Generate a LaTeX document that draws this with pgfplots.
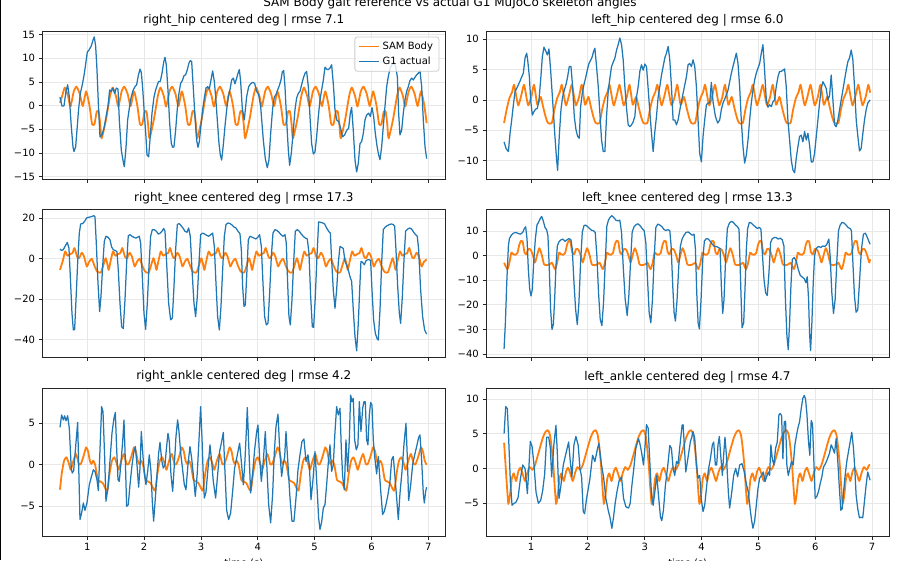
\documentclass[border=0pt]{standalone}
\usepackage{fontspec}
\setmainfont{DejaVu Sans}
\usepackage{pgfplots}
\pgfplotsset{compat=1.18}

\definecolor{tabblue}{HTML}{1F77B4}
\definecolor{taborange}{HTML}{FF7F0E}
\definecolor{gridgray}{HTML}{E8E8E8}
\definecolor{spine}{HTML}{262626}

\pgfplotsset{
  every axis title/.style={at={(0.5,1)}, anchor=base, yshift=8.5pt,
    font=\fontsize{12}{14}\selectfont, text=black},
  panel/.style={
    scale only axis, width=403pt, height=147.5pt,
    xmin=0.208, xmax=7.299,
    xtick={1,2,3,4,5,6,7},
    axis line style={draw=spine, line width=0.8pt},
    tick align=outside, tickpos=left,
    major tick length=3.5pt,
    tick style={draw=spine, line width=0.8pt},
    xmajorgrids, ymajorgrids,
    major grid style={draw=gridgray, line width=0.8pt},
    tick label style={font=\fontsize{10}{12}\selectfont, text=black, inner sep=0pt},
    yticklabel style={anchor=east, xshift=-3.5pt},
    xticklabel style={anchor=north, yshift=-3.5pt},
  },
  nox/.style={xticklabels={}},
  sam/.style={taborange, line width=1.8pt, line join=round, smooth, tension=0.35},
  gone/.style={tabblue, line width=1.25pt, line join=round},
}

\begin{document}
\begin{tikzpicture}[x=1pt,y=1pt]

% ---------------- right hip ----------------
\begin{axis}[panel, nox, at={(42.3pt,380.6pt)}, anchor=south west,
  ymin=-15.57, ymax=15.55,
  ytick={-15,-10,-5,0,5,10,15}, yticklabels={−15,−10,−5,0,5,10,15},
  title={right\_hip centered deg | rmse 7.1},
  legend style={at={(1,1)}, anchor=north east, xshift=-6pt, yshift=-4.7pt,
    draw=black!20, line width=0.8pt, rounded corners=2.5pt, fill=white,
    fill opacity=0.8, text opacity=1, font=\fontsize{10}{12}\selectfont,
    inner xsep=3.5pt, inner ysep=2.5pt, row sep=1.5pt,
    nodes={inner sep=2.4pt}},
  legend cell align=left,
  legend image code/.code={\draw[#1] (0pt,0pt) -- (20pt,0pt);},
]
\addplot[sam] coordinates {
(0.519,0.6)(0.557,2.0)(0.604,3.8)(0.662,2.0)(0.703,-0.2)(0.762,3.0)(0.809,4.0)(0.867,2.5)(0.920,-0.1)(0.979,3.0)(1.038,0.0)(1.084,-3.9)(1.126,-3.9)(1.165,-1.3)(1.200,-1.3)(1.228,-4.0)
(1.252,-6.9)(1.328,-3.0)(1.399,2.0)(1.446,3.8)(1.504,2.0)(1.545,-0.2)(1.604,3.0)(1.651,4.0)(1.709,2.5)(1.762,-0.1)(1.821,3.0)(1.880,0.0)(1.926,-3.9)(1.968,-3.9)(2.007,-1.3)(2.042,-1.3)(2.070,-4.0)
(2.094,-6.9)(2.170,-3.0)(2.241,2.0)(2.288,3.8)(2.346,2.0)(2.387,-0.2)(2.446,3.0)(2.493,4.0)(2.551,2.5)(2.604,-0.1)(2.663,3.0)(2.722,0.0)(2.768,-3.9)(2.810,-3.9)(2.849,-1.3)(2.884,-1.3)(2.912,-4.0)
(2.935,-6.9)(3.011,-3.0)(3.082,2.0)(3.129,3.8)(3.187,2.0)(3.228,-0.2)(3.287,3.0)(3.334,4.0)(3.392,2.5)(3.445,-0.1)(3.504,3.0)(3.563,0.0)(3.609,-3.9)(3.651,-3.9)(3.690,-1.3)(3.725,-1.3)(3.753,-4.0)
(3.777,-6.9)(3.853,-3.0)(3.924,2.0)(3.971,3.8)(4.029,2.0)(4.070,-0.2)(4.129,3.0)(4.176,4.0)(4.234,2.5)(4.287,-0.1)(4.346,3.0)(4.405,0.0)(4.451,-3.9)(4.493,-3.9)(4.532,-1.3)(4.567,-1.3)(4.595,-4.0)
(4.618,-6.9)(4.694,-3.0)(4.765,2.0)(4.812,3.8)(4.870,2.0)(4.911,-0.2)(4.970,3.0)(5.017,4.0)(5.075,2.5)(5.128,-0.1)(5.187,3.0)(5.246,0.0)(5.292,-3.9)(5.334,-3.9)(5.373,-1.3)(5.408,-1.3)(5.436,-4.0)
(5.460,-6.9)(5.536,-3.0)(5.607,2.0)(5.654,3.8)(5.712,2.0)(5.753,-0.2)(5.812,3.0)(5.859,4.0)(5.917,2.5)(5.970,-0.1)(6.029,3.0)(6.088,0.0)(6.134,-3.9)(6.176,-3.9)(6.215,-1.3)(6.250,-1.3)(6.278,-4.0)
(6.302,-6.9)(6.378,-3.0)(6.449,2.0)(6.496,3.8)(6.554,2.0)(6.595,-0.2)(6.654,3.0)(6.701,4.0)(6.759,2.5)(6.812,-0.1)(6.871,3.0)(6.930,0.0)(6.971,-3.7)
};
\addlegendentry{SAM Body}
\addplot[gone] coordinates {
(0.519,1.8)(0.554,-0.1)(0.589,-0.1)(0.625,3.0)(0.654,4.4)(0.683,1.9)(0.718,-4.4)(0.748,-8.7)(0.765,-9.7)(0.795,-8.7)(0.818,-5.2)(0.848,-0.6)(0.877,2.6)(0.912,4.4)(0.947,6.7)(0.977,9.3)(1.000,11.3)(1.035,11.8)(1.070,12.6)(1.100,13.8)(1.123,14.5)(1.147,12.5)(1.170,7.6)(1.194,0.5)(1.223,-6.6)(1.258,-6.2)(1.293,-4.8)(1.328,-2.5)(1.364,-0.1)(1.393,3.3)(1.422,3.0)(1.452,3.7)(1.481,2.6)(1.510,3.7)(1.540,3.5)(1.563,-3.0)(1.598,-9.4)(1.633,-11.9)(1.651,-12.9)(1.680,-9.0)(1.710,-3.0)(1.739,-0.6)(1.768,1.6)(1.804,3.2)(1.839,4.0)(1.868,4.4)(1.897,6.3)(1.927,7.7)(1.950,7.0)(1.974,3.7)(2.003,-1.6)(2.032,-6.6)(2.050,-10.4)(2.079,-10.8)(2.109,-6.2)(2.138,-1.6)(2.173,1.8)(2.202,3.3)(2.232,4.4)(2.255,5.1)(2.284,5.1)(2.314,6.8)(2.343,9.1)(2.367,10.2)(2.390,8.6)(2.419,3.3)(2.449,-3.7)(2.478,-8.0)(2.502,-8.8)(2.525,-8.7)(2.554,-5.2)(2.584,-0.6)(2.613,2.6)(2.642,4.7)(2.672,5.3)(2.701,6.3)(2.730,6.5)(2.760,7.6)(2.789,9.0)(2.812,9.5)(2.836,9.3)(2.865,3.7)(2.894,-2.3)(2.924,-7.3)(2.947,-8.8)(2.971,-7.6)(3.000,-4.1)(3.029,-0.9)(3.059,1.6)(3.088,3.7)(3.117,4.0)(3.147,3.5)(3.176,5.4)(3.205,7.3)(3.235,5.1)(3.258,1.9)(3.287,-3.0)(3.317,-8.0)(3.340,-10.4)(3.364,-11.5)(3.393,-8.3)(3.422,-4.4)(3.452,-0.9)(3.481,1.9)(3.510,3.3)(3.540,5.4)(3.569,5.8)(3.598,4.6)(3.628,5.8)(3.651,6.8)(3.675,7.6)(3.698,5.1)(3.727,-0.6)(3.762,-3.0)(3.804,1.9)(3.839,4.0)(3.874,4.6)(3.909,4.9)(3.944,4.7)(3.979,3.0)(4.015,2.3)(4.050,-0.2)(4.097,-7.3)(4.132,-11.2)(4.167,-13.1)(4.196,-11.5)(4.226,-5.9)(4.261,-0.6)(4.290,1.8)(4.320,2.3)(4.349,3.3)(4.378,4.2)(4.408,5.4)(4.431,7.1)(4.455,7.4)(4.478,4.0)(4.507,-3.0)(4.537,-9.4)(4.560,-12.6)(4.589,-10.1)(4.625,-5.2)(4.654,-0.9)(4.683,1.6)(4.713,2.6)(4.742,3.0)(4.771,4.4)(4.801,5.8)(4.830,6.8)(4.859,7.2)(4.889,4.0)(4.918,-2.3)(4.947,-8.0)(4.977,-10.2)(5.006,-9.8)(5.035,-6.6)(5.065,-2.3)(5.094,1.2)(5.123,3.3)(5.153,5.4)(5.182,8.1)(5.211,7.7)(5.240,7.6)(5.270,7.9)(5.299,8.6)(5.328,4.7)(5.358,-0.9)(5.387,-3.0)(5.422,-3.4)(5.457,-4.8)(5.493,-6.6)(5.528,-6.2)(5.563,-5.2)(5.598,-4.8)(5.628,-1.6)(5.651,-0.4)(5.680,-5.2)(5.710,-11.5)(5.739,-14.0)(5.768,-12.2)(5.798,-8.0)(5.827,-7.6)(5.856,-5.9)(5.886,-3.0)(5.915,-2.0)(5.950,-1.6)(5.980,-2.3)(6.009,-0.4)(6.038,-2.3)(6.068,-5.9)(6.097,-8.5)(6.126,-10.4)(6.150,-11.4)(6.179,-8.7)(6.208,-4.4)(6.238,-0.1)(6.267,4.0)(6.296,6.1)(6.326,7.9)(6.361,8.6)(6.396,9.1)(6.425,8.3)(6.455,6.1)(6.478,-1.6)(6.501,-6.2)(6.531,-5.2)(6.560,-1.6)(6.590,1.2)(6.619,3.0)(6.648,4.0)(6.678,5.3)(6.707,5.8)(6.736,5.4)(6.766,6.0)(6.795,6.5)(6.824,6.8)(6.853,7.4)(6.883,4.0)(6.912,-3.0)(6.942,-8.7)(6.971,-11.2)
};
\addlegendentry{G1 actual}
\end{axis}

% ---------------- left hip ----------------
\begin{axis}[panel, nox, at={(486pt,380.6pt)}, anchor=south west,
  ymin=-13.08, ymax=11.2,
  ytick={-10,-5,0,5,10}, yticklabels={−10,−5,0,5,10},
  title={left\_hip centered deg | rmse 6.0}]
\addplot[sam] coordinates {
(0.526,-3.8)(0.573,-1.5)(0.620,0.3)(0.667,1.3)(0.702,2.5)(0.748,0.2)(0.778,-0.9)(0.830,0.8)(0.877,2.5)(0.924,0.2)(0.953,-0.9)(1.006,0.5)(1.053,2.5)(1.111,-0.8)(1.170,0.5)(1.217,-1.3)(1.264,-3.0)(1.299,-3.8)
(1.366,-3.8)(1.413,-1.5)(1.460,0.3)(1.507,1.3)(1.542,2.5)(1.588,0.2)(1.618,-0.9)(1.670,0.8)(1.717,2.5)(1.764,0.2)(1.793,-0.9)(1.846,0.5)(1.893,2.5)(1.951,-0.8)(2.010,0.5)(2.057,-1.3)(2.104,-3.0)(2.139,-3.8)
(2.206,-3.8)(2.253,-1.5)(2.300,0.3)(2.347,1.3)(2.382,2.5)(2.428,0.2)(2.458,-0.9)(2.510,0.8)(2.557,2.5)(2.604,0.2)(2.633,-0.9)(2.686,0.5)(2.733,2.5)(2.791,-0.8)(2.850,0.5)(2.897,-1.3)(2.944,-3.0)(2.979,-3.8)
(3.047,-3.8)(3.094,-1.5)(3.141,0.3)(3.188,1.3)(3.223,2.5)(3.269,0.2)(3.299,-0.9)(3.351,0.8)(3.398,2.5)(3.445,0.2)(3.474,-0.9)(3.527,0.5)(3.574,2.5)(3.632,-0.8)(3.691,0.5)(3.738,-1.3)(3.785,-3.0)(3.820,-3.8)
(3.887,-3.8)(3.934,-1.5)(3.981,0.3)(4.028,1.3)(4.063,2.5)(4.109,0.2)(4.139,-0.9)(4.191,0.8)(4.238,2.5)(4.285,0.2)(4.314,-0.9)(4.367,0.5)(4.414,2.5)(4.472,-0.8)(4.531,0.5)(4.578,-1.3)(4.625,-3.0)(4.660,-3.8)
(4.727,-3.8)(4.774,-1.5)(4.821,0.3)(4.868,1.3)(4.903,2.5)(4.949,0.2)(4.979,-0.9)(5.031,0.8)(5.078,2.5)(5.125,0.2)(5.154,-0.9)(5.207,0.5)(5.254,2.5)(5.312,-0.8)(5.371,0.5)(5.418,-1.3)(5.465,-3.0)(5.500,-3.8)
(5.567,-3.8)(5.614,-1.5)(5.661,0.3)(5.708,1.3)(5.743,2.5)(5.789,0.2)(5.819,-0.9)(5.871,0.8)(5.918,2.5)(5.965,0.2)(5.994,-0.9)(6.047,0.5)(6.094,2.5)(6.152,-0.8)(6.211,0.5)(6.258,-1.3)(6.305,-3.0)(6.340,-3.8)
(6.408,-3.8)(6.455,-1.5)(6.502,0.3)(6.549,1.3)(6.584,2.5)(6.630,0.2)(6.660,-0.9)(6.712,0.8)(6.759,2.5)(6.806,0.2)(6.835,-0.9)(6.888,0.5)(6.935,2.5)(6.966,1.2)
};
\addplot[gone] coordinates {
(0.526,-6.9)(0.561,-8.0)(0.602,-8.5)(0.631,-5.5)(0.660,-3.3)(0.690,-0.8)(0.719,1.4)(0.748,1.9)(0.777,2.5)(0.807,3.1)(0.836,3.8)(0.865,4.4)(0.895,6.9)(0.924,7.7)(0.941,6.6)(0.971,3.8)(0.994,0.0)(1.023,-2.5)(1.053,-1.9)(1.082,-1.5)(1.111,-1.4)(1.140,0.0)(1.170,3.3)(1.199,7.1)(1.228,8.7)(1.257,8.1)(1.287,7.4)(1.316,8.4)(1.345,4.9)(1.380,0.0)(1.421,-6.0)(1.451,-9.9)(1.468,-11.6)(1.497,-6.0)(1.527,-1.6)(1.556,0.5)(1.585,1.6)(1.615,2.5)(1.644,3.8)(1.673,5.5)(1.703,5.5)(1.732,2.2)(1.761,-2.7)(1.791,-4.9)(1.820,-6.0)(1.849,-6.3)(1.872,-1.2)(1.902,1.1)(1.931,2.5)(1.960,3.6)(1.990,4.9)(2.019,6.0)(2.048,6.5)(2.077,7.1)(2.101,8.0)(2.124,8.5)(2.153,5.5)(2.183,2.2)(2.212,-2.2)(2.241,-6.6)(2.271,-8.5)(2.300,-8.5)(2.329,-2.7)(2.358,1.4)(2.388,3.6)(2.417,5.5)(2.446,6.2)(2.476,6.9)(2.505,8.2)(2.534,9.1)(2.563,10.2)(2.593,9.1)(2.622,6.6)(2.651,2.2)(2.681,-1.4)(2.710,-4.1)(2.739,-4.4)(2.769,-4.1)(2.798,-3.6)(2.827,-2.7)(2.856,0.5)(2.886,2.2)(2.915,4.7)(2.944,5.8)(2.974,4.9)(3.003,5.9)(3.032,5.5)(3.061,1.9)(3.090,-1.9)(3.120,-5.5)(3.149,-8.5)(3.179,-5.2)(3.208,-2.7)(3.237,0.5)(3.266,2.2)(3.296,4.1)(3.325,5.5)(3.354,6.9)(3.383,7.7)(3.413,8.8)(3.442,6.6)(3.471,2.2)(3.500,-3.3)(3.530,-3.3)(3.559,-4.1)(3.588,-3.3)(3.629,-1.1)(3.676,1.1)(3.734,3.8)(3.764,5.8)(3.793,6.0)(3.822,5.5)(3.851,6.6)(3.881,5.5)(3.910,2.2)(3.939,-3.3)(3.968,-8.8)(3.998,-10.2)(4.027,-6.0)(4.056,-3.3)(4.086,-0.8)(4.115,-0.5)(4.144,-0.5)(4.173,2.9)(4.203,-0.3)(4.244,-2.7)(4.285,-3.8)(4.320,-3.3)(4.349,-1.6)(4.378,-0.5)(4.437,0.8)(4.466,1.6)(4.495,3.0)(4.525,4.4)(4.554,5.5)(4.583,6.6)(4.613,7.7)(4.642,6.0)(4.671,2.2)(4.700,-3.3)(4.730,-7.7)(4.759,-10.4)(4.788,-9.1)(4.818,-6.6)(4.847,-3.3)(4.876,-0.5)(4.905,1.6)(4.935,3.3)(4.964,4.4)(4.993,5.2)(5.023,6.0)(5.052,7.7)(5.081,9.1)(5.110,4.9)(5.140,0.0)(5.169,-1.2)(5.198,-0.8)(5.228,-1.1)(5.257,-0.3)(5.286,0.0)(5.315,2.2)(5.345,3.8)(5.374,4.7)(5.403,4.7)(5.433,4.9)(5.462,5.1)(5.491,2.2)(5.520,-3.3)(5.550,-6.6)(5.579,-9.9)(5.608,-11.5)(5.638,-12.0)(5.667,-9.6)(5.696,-7.7)(5.726,-6.0)(5.755,-5.8)(5.784,-6.9)(5.814,-5.2)(5.843,-6.6)(5.872,-5.5)(5.901,-7.4)(5.931,-10.2)(5.960,-10.2)(5.989,-8.8)(6.019,-6.0)(6.048,-3.3)(6.077,-0.5)(6.106,1.9)(6.136,3.0)(6.165,2.5)(6.194,1.9)(6.224,0.0)(6.253,0.7)(6.282,4.1)(6.312,0.0)(6.341,-4.1)(6.370,-4.4)(6.399,-3.3)(6.429,-1.6)(6.458,0.0)(6.487,1.6)(6.517,3.3)(6.546,4.9)(6.575,6.3)(6.604,6.9)(6.634,8.2)(6.663,6.6)(6.692,2.2)(6.722,-3.3)(6.751,-6.0)(6.780,-8.4)(6.809,-8.0)(6.839,-5.5)(6.868,-3.3)(6.897,-1.6)(6.926,-0.5)(6.966,0.0)
};
\end{axis}

% ---------------- right knee ----------------
\begin{axis}[panel, nox, at={(42.3pt,202.7pt)}, anchor=south west,
  ymin=-48.7, ymax=24.2,
  ytick={-40,-20,0,20}, yticklabels={−40,−20,0,20},
  title={right\_knee centered deg | rmse 17.3}]
\addplot[sam] coordinates {
(0.519,-5.5)(0.569,-1.0)(0.610,3.6)(0.651,1.5)(0.698,2.3)(0.739,2.8)(0.774,5.3)(0.821,1.0)(0.856,0.3)(0.903,3.0)(0.944,1.0)(0.991,-3.8)(1.032,-1.5)(1.079,0.0)(1.126,-3.5)(1.167,-6.0)
(1.194,-6.7)(1.241,-6.7)(1.294,-2.0)(1.323,0.3)(1.352,-2.5)(1.376,-5.5)(1.411,-1.0)(1.452,3.6)(1.493,1.5)(1.540,2.3)(1.581,2.8)(1.616,5.3)(1.663,1.0)(1.698,0.3)(1.745,3.0)(1.786,1.0)(1.833,-3.8)(1.874,-1.5)(1.921,0.0)(1.968,-3.5)(2.009,-6.0)
(2.035,-6.7)(2.082,-6.7)(2.135,-2.0)(2.164,0.3)(2.193,-2.5)(2.217,-5.5)(2.252,-1.0)(2.293,3.6)(2.334,1.5)(2.381,2.3)(2.422,2.8)(2.457,5.3)(2.504,1.0)(2.539,0.3)(2.586,3.0)(2.627,1.0)(2.674,-3.8)(2.715,-1.5)(2.762,0.0)(2.809,-3.5)(2.850,-6.0)
(2.877,-6.7)(2.924,-6.7)(2.977,-2.0)(3.006,0.3)(3.035,-2.5)(3.059,-5.5)(3.094,-1.0)(3.135,3.6)(3.176,1.5)(3.223,2.3)(3.264,2.8)(3.299,5.3)(3.346,1.0)(3.381,0.3)(3.428,3.0)(3.469,1.0)(3.516,-3.8)(3.557,-1.5)(3.604,0.0)(3.651,-3.5)(3.692,-6.0)
(3.718,-6.7)(3.765,-6.7)(3.818,-2.0)(3.847,0.3)(3.876,-2.5)(3.900,-5.5)(3.935,-1.0)(3.976,3.6)(4.017,1.5)(4.064,2.3)(4.105,2.8)(4.140,5.3)(4.187,1.0)(4.222,0.3)(4.269,3.0)(4.310,1.0)(4.357,-3.8)(4.398,-1.5)(4.445,0.0)(4.492,-3.5)(4.533,-6.0)
(4.560,-6.7)(4.607,-6.7)(4.660,-2.0)(4.689,0.3)(4.718,-2.5)(4.742,-5.5)(4.777,-1.0)(4.818,3.6)(4.859,1.5)(4.906,2.3)(4.947,2.8)(4.982,5.3)(5.029,1.0)(5.064,0.3)(5.111,3.0)(5.152,1.0)(5.199,-3.8)(5.240,-1.5)(5.287,0.0)(5.334,-3.5)(5.375,-6.0)
(5.402,-6.7)(5.449,-6.7)(5.502,-2.0)(5.531,0.3)(5.560,-2.5)(5.584,-5.5)(5.619,-1.0)(5.660,3.6)(5.701,1.5)(5.748,2.3)(5.789,2.8)(5.824,5.3)(5.871,1.0)(5.906,0.3)(5.953,3.0)(5.994,1.0)(6.041,-3.8)(6.082,-1.5)(6.129,0.0)(6.176,-3.5)(6.217,-6.0)
(6.243,-6.7)(6.290,-6.7)(6.343,-2.0)(6.372,0.3)(6.401,-2.5)(6.425,-5.5)(6.460,-1.0)(6.501,3.6)(6.542,1.5)(6.589,2.3)(6.630,2.8)(6.665,5.3)(6.712,1.0)(6.747,0.3)(6.794,3.0)(6.835,1.0)(6.882,-3.8)(6.923,-1.5)(6.971,-0.3)
};
\addplot[gone] coordinates {
(0.519,4.8)(0.548,4.1)(0.578,4.5)(0.613,6.4)(0.648,8.1)(0.677,5.3)(0.701,-8.8)(0.730,-26.9)(0.754,-35.2)(0.777,-34.9)(0.801,-20.3)(0.830,-2.1)(0.859,12.7)(0.883,17.2)(0.918,17.4)(0.953,18.5)(0.988,20.2)(1.023,20.5)(1.059,20.7)(1.088,21.0)(1.117,21.3)(1.135,20.7)(1.158,7.8)(1.188,-12.1)(1.217,-26.1)(1.240,-18.7)(1.270,-3.8)(1.299,8.6)(1.328,11.1)(1.364,10.6)(1.399,9.4)(1.428,5.8)(1.457,4.5)(1.493,4.0)(1.522,3.6)(1.545,-5.5)(1.575,-22.0)(1.604,-33.6)(1.633,-34.5)(1.663,-20.3)(1.692,-2.1)(1.721,11.4)(1.751,11.9)(1.786,11.1)(1.821,10.6)(1.856,10.2)(1.886,10.7)(1.915,11.1)(1.938,7.8)(1.968,-8.8)(1.997,-26.9)(2.026,-34.9)(2.056,-22.0)(2.085,-3.8)(2.114,11.1)(2.144,14.4)(2.179,14.4)(2.214,13.6)(2.249,12.2)(2.284,12.7)(2.314,13.6)(2.343,15.0)(2.367,13.6)(2.396,-2.1)(2.431,-22.0)(2.466,-30.2)(2.496,-29.4)(2.525,-13.7)(2.554,4.5)(2.584,16.9)(2.613,17.4)(2.648,16.4)(2.683,15.2)(2.718,13.6)(2.754,13.1)(2.783,15.2)(2.812,11.1)(2.842,-5.5)(2.877,-22.0)(2.906,-28.6)(2.935,-18.7)(2.965,-2.1)(2.994,11.9)(3.029,12.7)(3.065,12.2)(3.100,11.6)(3.135,11.1)(3.170,11.9)(3.205,12.7)(3.235,6.1)(3.264,-12.1)(3.293,-28.6)(3.323,-35.2)(3.352,-23.6)(3.381,-5.5)(3.411,11.1)(3.440,16.9)(3.475,17.7)(3.510,17.4)(3.545,16.7)(3.581,15.7)(3.616,15.2)(3.651,13.6)(3.686,12.4)(3.710,4.5)(3.733,-13.7)(3.757,-23.6)(3.780,-22.8)(3.804,-8.8)(3.833,9.4)(3.862,11.1)(3.897,10.7)(3.933,10.2)(3.968,9.8)(4.003,10.7)(4.032,11.9)(4.062,6.1)(4.091,-12.1)(4.120,-28.6)(4.150,-32.7)(4.179,-31.9)(4.208,-17.0)(4.238,1.2)(4.267,12.7)(4.302,14.4)(4.337,14.0)(4.372,13.1)(4.408,11.9)(4.443,11.1)(4.478,11.9)(4.501,7.8)(4.525,-12.1)(4.548,-28.6)(4.572,-32.7)(4.601,-20.3)(4.630,-2.1)(4.660,13.6)(4.695,14.4)(4.730,13.6)(4.765,12.2)(4.801,11.1)(4.836,10.2)(4.871,9.8)(4.900,2.8)(4.930,-18.7)(4.959,-33.6)(4.982,-33.9)(5.012,-18.7)(5.041,1.2)(5.070,18.2)(5.106,18.0)(5.141,17.7)(5.176,17.2)(5.211,15.2)(5.246,13.6)(5.276,12.7)(5.299,-0.5)(5.328,-15.4)(5.358,-24.5)(5.387,-15.4)(5.416,-2.1)(5.446,6.1)(5.475,5.6)(5.504,5.1)(5.534,-1.3)(5.563,-3.0)(5.592,-5.5)(5.622,-8.8)(5.651,-11.2)(5.680,-25.3)(5.710,-38.5)(5.739,-45.5)(5.768,-31.9)(5.792,-15.4)(5.815,-1.3)(5.845,-1.8)(5.874,-3.0)(5.903,-1.0)(5.933,-0.5)(5.962,-0.5)(5.985,-0.8)(6.009,-15.4)(6.038,-30.2)(6.068,-36.9)(6.097,-39.3)(6.120,-40.2)(6.150,-25.3)(6.179,-2.1)(6.208,14.4)(6.244,15.7)(6.279,16.4)(6.314,16.9)(6.349,17.2)(6.384,16.9)(6.408,16.0)(6.431,4.5)(6.461,-13.7)(6.490,-26.9)(6.513,-31.9)(6.543,-18.7)(6.572,-0.5)(6.601,13.6)(6.636,14.7)(6.672,15.2)(6.707,14.7)(6.742,13.1)(6.777,11.9)(6.806,11.1)(6.830,4.5)(6.865,-15.4)(6.900,-28.6)(6.935,-35.2)(6.971,-37.2)
};
\end{axis}

% ---------------- left knee ----------------
\begin{axis}[panel, nox, at={(486pt,202.7pt)}, anchor=south west,
  ymin=-41.3, ymax=18.6,
  ytick={-40,-30,-20,-10,0,10}, yticklabels={−40,−30,−20,−10,0,10},
  title={left\_knee centered deg | rmse 13.3}]
\addplot[sam] coordinates {
(0.526,-2.9)
(0.584,-5.5)(0.619,-3.0)(0.654,1.2)(0.689,0.5)(0.725,0.3)(0.760,1.0)(0.795,4.5)(0.824,6.0)(0.853,5.8)(0.883,1.5)(0.918,0.5)(0.953,2.7)(0.994,2.4)(1.035,0.0)(1.070,-2.8)(1.105,0.0)(1.146,3.0)(1.187,0.5)(1.228,-3.5)(1.275,-3.9)(1.322,-3.6)(1.369,-2.9)(1.399,-4.5)
(1.424,-5.5)(1.459,-3.0)(1.494,1.2)(1.529,0.5)(1.565,0.3)(1.600,1.0)(1.635,4.5)(1.664,6.0)(1.693,5.8)(1.723,1.5)(1.758,0.5)(1.793,2.7)(1.834,2.4)(1.875,0.0)(1.910,-2.8)(1.945,0.0)(1.986,3.0)(2.027,0.5)(2.068,-3.5)(2.115,-3.9)(2.162,-3.6)(2.209,-2.9)(2.239,-4.5)
(2.265,-5.5)(2.300,-3.0)(2.335,1.2)(2.370,0.5)(2.406,0.3)(2.441,1.0)(2.476,4.5)(2.505,6.0)(2.534,5.8)(2.564,1.5)(2.599,0.5)(2.634,2.7)(2.675,2.4)(2.716,0.0)(2.751,-2.8)(2.786,0.0)(2.827,3.0)(2.868,0.5)(2.909,-3.5)(2.956,-3.9)(3.003,-3.6)(3.050,-2.9)(3.080,-4.5)
(3.105,-5.5)(3.140,-3.0)(3.175,1.2)(3.210,0.5)(3.246,0.3)(3.281,1.0)(3.316,4.5)(3.345,6.0)(3.374,5.8)(3.404,1.5)(3.439,0.5)(3.474,2.7)(3.515,2.4)(3.556,0.0)(3.591,-2.8)(3.626,0.0)(3.667,3.0)(3.708,0.5)(3.749,-3.5)(3.796,-3.9)(3.843,-3.6)(3.890,-2.9)(3.920,-4.5)
(3.945,-5.5)(3.980,-3.0)(4.015,1.2)(4.050,0.5)(4.086,0.3)(4.121,1.0)(4.156,4.5)(4.185,6.0)(4.214,5.8)(4.244,1.5)(4.279,0.5)(4.314,2.7)(4.355,2.4)(4.396,0.0)(4.431,-2.8)(4.466,0.0)(4.507,3.0)(4.548,0.5)(4.589,-3.5)(4.636,-3.9)(4.683,-3.6)(4.730,-2.9)(4.760,-4.5)
(4.785,-5.5)(4.820,-3.0)(4.855,1.2)(4.890,0.5)(4.926,0.3)(4.961,1.0)(4.996,4.5)(5.025,6.0)(5.054,5.8)(5.084,1.5)(5.119,0.5)(5.154,2.7)(5.195,2.4)(5.236,0.0)(5.271,-2.8)(5.306,0.0)(5.347,3.0)(5.388,0.5)(5.429,-3.5)(5.476,-3.9)(5.523,-3.6)(5.570,-2.9)(5.600,-4.5)
(5.625,-5.5)(5.660,-3.0)(5.695,1.2)(5.730,0.5)(5.766,0.3)(5.801,1.0)(5.836,4.5)(5.865,6.0)(5.894,5.8)(5.924,1.5)(5.959,0.5)(5.994,2.7)(6.035,2.4)(6.076,0.0)(6.111,-2.8)(6.146,0.0)(6.187,3.0)(6.228,0.5)(6.269,-3.5)(6.316,-3.9)(6.363,-3.6)(6.410,-2.9)(6.440,-4.5)
(6.465,-5.5)(6.500,-3.0)(6.535,1.2)(6.570,0.5)(6.606,0.3)(6.641,1.0)(6.676,4.5)(6.705,6.0)(6.734,5.8)(6.764,1.5)(6.799,0.5)(6.834,2.7)(6.875,2.4)(6.916,0.0)(6.951,-2.8)(6.966,-1.5)
};
\addplot[gone] coordinates {
(0.526,-37.9)(0.549,-27.3)(0.573,-11.0)(0.602,3.9)(0.620,6.9)(0.655,8.3)(0.690,9.1)(0.731,9.4)(0.772,9.0)(0.813,8.7)(0.854,9.4)(0.883,11.0)(0.906,11.7)(0.930,6.7)(0.953,-5.6)(0.977,-13.7)(1.000,-16.4)(1.023,-13.7)(1.047,-2.9)(1.076,6.7)(1.105,12.4)(1.135,13.7)(1.164,15.1)(1.187,15.9)(1.216,14.1)(1.246,11.4)(1.275,10.5)(1.298,8.0)(1.322,-5.6)(1.345,-21.9)(1.369,-30.0)(1.393,-28.0)(1.416,-17.8)(1.439,-4.2)(1.463,3.9)(1.492,5.6)(1.527,6.4)(1.562,6.7)(1.598,5.8)(1.633,6.4)(1.668,6.9)(1.703,6.4)(1.726,2.6)(1.756,-11.0)(1.785,-21.9)(1.814,-28.0)(1.843,-19.2)(1.872,-2.9)(1.902,9.4)(1.931,12.1)(1.960,12.4)(1.995,11.8)(2.030,11.0)(2.065,10.3)(2.100,10.1)(2.130,9.4)(2.159,-0.1)(2.188,-15.1)(2.218,-26.0)(2.247,-28.4)(2.276,-19.2)(2.306,-2.9)(2.335,12.1)(2.364,14.5)(2.394,15.6)(2.423,16.2)(2.458,15.4)(2.493,14.4)(2.528,14.1)(2.563,14.4)(2.593,9.4)(2.622,-4.2)(2.657,-17.8)(2.692,-24.3)(2.721,-16.4)(2.751,-2.9)(2.780,9.6)(2.815,11.8)(2.850,12.6)(2.885,12.9)(2.921,12.1)(2.956,11.0)(2.991,10.1)(3.020,5.3)(3.050,-9.6)(3.079,-23.2)(3.108,-27.3)(3.137,-17.8)(3.166,-1.5)(3.196,11.4)(3.231,12.8)(3.266,12.4)(3.301,11.8)(3.336,10.7)(3.371,10.2)(3.407,10.5)(3.442,10.2)(3.465,3.9)(3.494,-12.4)(3.518,-23.2)(3.541,-26.6)(3.570,-17.8)(3.600,-4.2)(3.629,3.9)(3.658,6.7)(3.693,8.3)(3.728,9.4)(3.764,9.6)(3.799,9.0)(3.834,8.3)(3.869,8.7)(3.893,2.6)(3.916,-15.1)(3.940,-27.3)(3.963,-29.8)(3.992,-17.8)(4.022,-1.5)(4.051,6.0)(4.086,6.9)(4.121,6.7)(4.156,5.7)(4.192,4.5)(4.227,3.7)(4.261,3.7)(4.297,3.3)(4.326,2.9)(4.349,-12.4)(4.373,-23.5)(4.396,-17.8)(4.426,-0.1)(4.455,11.0)(4.490,13.2)(4.525,13.9)(4.560,13.5)(4.595,12.5)(4.630,11.8)(4.660,10.7)(4.683,-6.9)(4.713,-29.3)(4.742,-27.3)(4.765,-13.7)(4.789,2.6)(4.812,11.0)(4.841,13.5)(4.876,13.2)(4.911,12.4)(4.947,11.7)(4.982,11.0)(5.017,11.5)(5.046,10.7)(5.070,1.2)(5.099,-9.6)(5.128,-15.1)(5.157,-16.2)(5.187,-6.9)(5.216,5.3)(5.245,6.9)(5.280,7.3)(5.316,7.3)(5.351,6.7)(5.386,7.1)(5.421,6.4)(5.450,3.9)(5.474,-16.4)(5.503,-32.7)(5.526,-38.2)(5.550,-27.3)(5.573,-12.4)(5.597,-1.5)(5.632,-0.8)(5.667,-2.2)(5.702,-5.6)(5.737,-8.0)(5.772,-8.7)(5.807,-9.4)(5.837,-11.0)(5.860,-8.6)(5.884,-17.8)(5.901,-31.4)(5.919,-38.6)(5.942,-27.3)(5.966,-11.0)(5.989,-0.1)(6.017,2.9)(6.058,3.7)(6.099,3.3)(6.134,3.9)(6.170,3.7)(6.205,4.6)(6.240,6.7)(6.263,-0.1)(6.293,-15.1)(6.322,-23.5)(6.351,-17.8)(6.380,-2.9)(6.410,10.1)(6.439,12.4)(6.474,13.5)(6.509,13.2)(6.544,12.4)(6.579,11.4)(6.614,11.0)(6.638,10.1)(6.661,-1.5)(6.691,-16.4)(6.720,-23.0)(6.749,-22.1)(6.779,-11.0)(6.814,2.6)(6.849,8.7)(6.884,9.1)(6.919,7.3)(6.966,4.6)
};
\end{axis}

% ---------------- right ankle ----------------
\begin{axis}[panel, at={(42.3pt,24pt)}, anchor=south west,
  ymin=-8.58, ymax=9.19,
  ytick={-5,0,5}, yticklabels={−5,0,5},
  xticklabels={1,2,3,4,5,6,7},
  title={right\_ankle centered deg | rmse 4.2}]
\addplot[sam] coordinates {
(0.519,-3.0)(0.551,-1.0)(0.592,0.5)(0.633,0.9)(0.674,0.2)(0.709,-0.6)(0.756,0.5)(0.803,1.3)(0.850,0.1)(0.885,0.1)(0.932,1.0)(0.979,2.1)(1.014,1.6)(1.044,0.5)(1.073,0.1)(1.102,0.5)(1.138,0.0)(1.184,-1.8)(1.226,-2.0)(1.272,-2.2)(1.308,-2.7)
(1.352,-3.1)(1.393,-1.0)(1.434,0.5)(1.475,0.9)(1.516,0.2)(1.551,-0.6)(1.598,0.5)(1.645,1.3)(1.692,0.1)(1.727,0.1)(1.774,1.0)(1.821,2.1)(1.856,1.6)(1.886,0.5)(1.915,0.1)(1.944,0.5)(1.980,0.0)(2.026,-1.8)(2.068,-2.0)(2.114,-2.2)(2.150,-2.7)
(2.194,-3.1)(2.235,-1.0)(2.276,0.5)(2.317,0.9)(2.358,0.2)(2.393,-0.6)(2.440,0.5)(2.487,1.3)(2.534,0.1)(2.569,0.1)(2.616,1.0)(2.663,2.1)(2.698,1.6)(2.728,0.5)(2.757,0.1)(2.786,0.5)(2.822,0.0)(2.868,-1.8)(2.910,-2.0)(2.956,-2.2)(2.992,-2.7)
(3.035,-3.1)(3.076,-1.0)(3.117,0.5)(3.158,0.9)(3.199,0.2)(3.234,-0.6)(3.281,0.5)(3.328,1.3)(3.375,0.1)(3.410,0.1)(3.457,1.0)(3.504,2.1)(3.539,1.6)(3.569,0.5)(3.598,0.1)(3.627,0.5)(3.663,0.0)(3.709,-1.8)(3.751,-2.0)(3.797,-2.2)(3.833,-2.7)
(3.877,-3.1)(3.918,-1.0)(3.959,0.5)(4.000,0.9)(4.041,0.2)(4.076,-0.6)(4.123,0.5)(4.170,1.3)(4.217,0.1)(4.252,0.1)(4.299,1.0)(4.346,2.1)(4.381,1.6)(4.411,0.5)(4.440,0.1)(4.469,0.5)(4.505,0.0)(4.551,-1.8)(4.593,-2.0)(4.639,-2.2)(4.675,-2.7)
(4.718,-3.1)(4.759,-1.0)(4.800,0.5)(4.841,0.9)(4.882,0.2)(4.917,-0.6)(4.964,0.5)(5.011,1.3)(5.058,0.1)(5.093,0.1)(5.140,1.0)(5.187,2.1)(5.222,1.6)(5.252,0.5)(5.281,0.1)(5.310,0.5)(5.346,0.0)(5.392,-1.8)(5.434,-2.0)(5.480,-2.2)(5.516,-2.7)
(5.560,-3.1)(5.601,-1.0)(5.642,0.5)(5.683,0.9)(5.724,0.2)(5.759,-0.6)(5.806,0.5)(5.853,1.3)(5.900,0.1)(5.935,0.1)(5.982,1.0)(6.029,2.1)(6.064,1.6)(6.094,0.5)(6.123,0.1)(6.152,0.5)(6.188,0.0)(6.234,-1.8)(6.276,-2.0)(6.322,-2.2)(6.358,-2.7)
(6.402,-3.1)(6.443,-1.0)(6.484,0.5)(6.525,0.9)(6.566,0.2)(6.601,-0.6)(6.648,0.5)(6.695,1.3)(6.742,0.1)(6.777,0.1)(6.824,1.0)(6.871,2.1)(6.906,1.6)(6.936,0.5)(6.971,0.0)
};
\addplot[gone] coordinates {
(0.519,4.5)(0.548,6.0)(0.578,5.4)(0.601,5.9)(0.625,5.3)(0.654,5.9)(0.683,4.4)(0.718,-0.5)(0.736,-1.0)(0.760,-0.7)(0.795,2.2)(0.830,5.1)(0.871,-6.6)(0.900,-5.8)(0.930,-4.6)(0.959,-5.5)(0.994,-4.6)(1.035,-2.4)(1.070,-1.5)(1.106,-0.6)(1.135,-0.8)(1.170,-1.8)(1.194,-3.1)(1.223,1.8)(1.252,7.0)(1.276,6.4)(1.305,1.0)(1.328,-4.4)(1.364,-2.8)(1.399,0.5)(1.434,3.8)(1.469,5.6)(1.493,6.3)(1.516,2.0)(1.540,-1.8)(1.563,-2.0)(1.592,0.2)(1.622,2.8)(1.645,5.4)(1.669,0.5)(1.692,-5.0)(1.721,-4.8)(1.751,-2.4)(1.786,-0.1)(1.815,1.4)(1.845,2.2)(1.874,0.0)(1.903,-2.7)(1.927,-0.4)(1.950,4.0)(1.980,1.0)(2.009,-1.3)(2.032,-2.4)(2.062,-0.8)(2.091,1.2)(2.120,-0.8)(2.144,-4.5)(2.167,-6.8)(2.197,-4.0)(2.226,-1.2)(2.255,1.4)(2.279,2.7)(2.308,0.6)(2.337,-0.4)(2.367,0.0)(2.390,1.8)(2.419,3.8)(2.443,2.8)(2.472,-1.2)(2.502,-3.2)(2.531,0.0)(2.560,3.4)(2.589,5.4)(2.613,4.0)(2.642,1.5)(2.677,-0.6)(2.707,-2.4)(2.736,-3.0)(2.771,0.0)(2.806,2.2)(2.836,0.8)(2.865,-1.2)(2.900,-3.8)(2.935,-1.0)(2.965,3.0)(2.994,7.0)(3.018,3.2)(3.041,-1.5)(3.059,-4.0)(3.088,-3.3)(3.123,-0.5)(3.158,2.4)(3.188,0.4)(3.217,-2.0)(3.258,-4.0)(3.293,-1.2)(3.328,1.6)(3.364,2.8)(3.393,3.9)(3.422,-0.8)(3.452,-5.5)(3.487,-6.6)(3.522,-5.8)(3.557,-3.2)(3.592,-0.4)(3.628,0.8)(3.657,1.8)(3.680,2.6)(3.710,0.4)(3.745,-2.4)(3.774,0.5)(3.804,5.0)(3.815,6.9)(3.845,1.5)(3.874,-3.4)(3.909,-1.0)(3.944,1.8)(3.980,4.0)(4.003,4.8)(4.032,0.8)(4.062,-2.0)(4.097,0.5)(4.132,4.0)(4.161,-0.5)(4.191,-4.8)(4.226,-7.0)(4.261,-3.5)(4.290,1.5)(4.320,4.6)(4.355,6.1)(4.384,2.0)(4.419,-1.4)(4.449,0.2)(4.472,0.9)(4.496,4.0)(4.531,0.0)(4.566,-4.0)(4.601,-6.8)(4.636,-6.8)(4.672,-4.0)(4.707,-0.6)(4.742,1.2)(4.777,2.8)(4.812,3.1)(4.848,0.4)(4.883,1.2)(4.906,0.0)(4.936,-4.2)(4.971,-1.8)(5.006,1.6)(5.035,-1.8)(5.070,-6.4)(5.094,-7.8)(5.123,-6.9)(5.153,-5.2)(5.182,-4.8)(5.211,-2.4)(5.240,0.2)(5.270,2.4)(5.299,-0.8)(5.328,0.0)(5.358,4.0)(5.387,7.0)(5.416,6.0)(5.446,6.8)(5.469,2.0)(5.493,-1.4)(5.522,-3.0)(5.551,3.0)(5.581,-0.8)(5.610,3.0)(5.633,8.4)(5.657,7.6)(5.680,8.0)(5.704,3.0)(5.733,1.8)(5.762,2.4)(5.786,7.6)(5.815,4.0)(5.845,6.8)(5.868,7.6)(5.891,7.6)(5.915,3.0)(5.938,2.4)(5.962,6.0)(5.985,7.5)(6.009,7.2)(6.032,3.0)(6.056,1.0)(6.091,-1.1)(6.120,1.0)(6.161,-3.0)(6.196,-6.0)(6.226,-5.6)(6.255,-4.8)(6.290,-3.6)(6.326,-2.0)(6.355,0.6)(6.384,1.0)(6.408,-1.0)(6.443,-4.0)(6.472,-6.6)(6.501,-3.5)(6.537,-0.8)(6.572,2.5)(6.607,5.0)(6.630,1.0)(6.654,-4.3)(6.689,-2.5)(6.724,0.0)(6.760,1.2)(6.795,2.2)(6.830,3.3)(6.853,3.6)(6.883,0.5)(6.912,-3.5)(6.930,-4.6)(6.953,-3.2)(6.971,-2.7)
};
\end{axis}

% ---------------- left ankle ----------------
\begin{axis}[panel, at={(486pt,24pt)}, anchor=south west,
  ymin=-9.71, ymax=11.5,
  ytick={-5,0,5,10}, yticklabels={−5,0,5,10},
  xticklabels={1,2,3,4,5,6,7},
  title={left\_ankle centered deg | rmse 4.7}]
\addplot[sam] coordinates {
(0.526,3.7)(0.552,0.5)(0.576,-2.5)
(0.602,-5.1)(0.631,-3.8)(0.661,-1.5)(0.696,-0.7)(0.737,-1.8)(0.778,-0.4)(0.813,0.1)(0.854,-0.8)(0.895,-1.8)(0.936,-0.6)(0.977,0.2)(1.024,-0.2)(1.070,0.5)(1.117,1.8)(1.164,3.2)(1.211,4.5)(1.258,5.3)(1.299,5.5)(1.334,4.8)(1.363,3.0)(1.392,0.5)(1.416,-2.5)
(1.442,-5.1)(1.471,-3.8)(1.501,-1.5)(1.536,-0.7)(1.577,-1.8)(1.618,-0.4)(1.653,0.1)(1.694,-0.8)(1.735,-1.8)(1.776,-0.6)(1.817,0.2)(1.864,-0.2)(1.910,0.5)(1.957,1.8)(2.004,3.2)(2.051,4.5)(2.098,5.3)(2.139,5.5)(2.174,4.8)(2.203,3.0)(2.232,0.5)(2.256,-2.5)
(2.282,-5.1)(2.311,-3.8)(2.341,-1.5)(2.376,-0.7)(2.417,-1.8)(2.458,-0.4)(2.493,0.1)(2.534,-0.8)(2.575,-1.8)(2.616,-0.6)(2.657,0.2)(2.704,-0.2)(2.750,0.5)(2.797,1.8)(2.844,3.2)(2.891,4.5)(2.938,5.3)(2.979,5.5)(3.014,4.8)(3.043,3.0)(3.072,0.5)(3.096,-2.5)
(3.123,-5.1)(3.152,-3.8)(3.182,-1.5)(3.217,-0.7)(3.258,-1.8)(3.299,-0.4)(3.334,0.1)(3.375,-0.8)(3.416,-1.8)(3.457,-0.6)(3.498,0.2)(3.545,-0.2)(3.591,0.5)(3.638,1.8)(3.685,3.2)(3.732,4.5)(3.779,5.3)(3.820,5.5)(3.855,4.8)(3.884,3.0)(3.913,0.5)(3.937,-2.5)
(3.963,-5.1)(3.992,-3.8)(4.022,-1.5)(4.057,-0.7)(4.098,-1.8)(4.139,-0.4)(4.174,0.1)(4.215,-0.8)(4.256,-1.8)(4.297,-0.6)(4.338,0.2)(4.385,-0.2)(4.431,0.5)(4.478,1.8)(4.525,3.2)(4.572,4.5)(4.619,5.3)(4.660,5.5)(4.695,4.8)(4.724,3.0)(4.753,0.5)(4.777,-2.5)
(4.803,-5.1)(4.832,-3.8)(4.862,-1.5)(4.897,-0.7)(4.938,-1.8)(4.979,-0.4)(5.014,0.1)(5.055,-0.8)(5.096,-1.8)(5.137,-0.6)(5.178,0.2)(5.225,-0.2)(5.271,0.5)(5.318,1.8)(5.365,3.2)(5.412,4.5)(5.459,5.3)(5.500,5.5)(5.535,4.8)(5.564,3.0)(5.593,0.5)(5.617,-2.5)
(5.643,-5.1)(5.672,-3.8)(5.702,-1.5)(5.737,-0.7)(5.778,-1.8)(5.819,-0.4)(5.854,0.1)(5.895,-0.8)(5.936,-1.8)(5.977,-0.6)(6.018,0.2)(6.065,-0.2)(6.111,0.5)(6.158,1.8)(6.205,3.2)(6.252,4.5)(6.299,5.3)(6.340,5.5)(6.375,4.8)(6.404,3.0)(6.433,0.5)(6.457,-2.5)
(6.483,-5.1)(6.512,-3.8)(6.542,-1.5)(6.577,-0.7)(6.618,-1.8)(6.659,-0.4)(6.694,0.1)(6.735,-0.8)(6.776,-1.8)(6.817,-0.6)(6.858,0.2)(6.905,-0.2)(6.951,0.5)(6.966,0.5)
};
\addplot[gone] coordinates {
(0.526,5.0)(0.555,8.9)(0.584,8.6)(0.608,4.0)(0.637,-2.0)(0.666,-5.3)(0.701,-5.0)(0.731,-4.9)(0.772,-4.2)(0.813,-1.5)(0.854,0.5)(0.895,0.0)(0.936,-3.6)(0.965,0.5)(0.988,3.9)(1.018,3.2)(1.053,0.5)(1.088,-3.4)(1.129,-5.0)(1.170,-4.6)(1.205,-3.2)(1.240,-0.8)(1.275,4.5)(1.310,4.5)(1.340,3.0)(1.363,-1.2)(1.404,3.6)(1.439,6.2)(1.463,2.2)(1.492,-4.3)(1.521,-2.8)(1.568,0.5)(1.627,2.6)(1.662,3.8)(1.691,1.0)(1.720,-1.2)(1.755,3.4)(1.790,4.6)(1.831,3.3)(1.861,0.0)(1.890,-1.2)(1.919,-6.2)(1.943,-6.5)(1.978,-4.3)(2.036,-1.5)(2.083,1.9)(2.124,1.0)(2.171,2.9)(2.194,3.6)(2.241,0.5)(2.276,-1.2)(2.317,-4.3)(2.358,-6.0)(2.388,-7.0)(2.423,-8.6)(2.452,-7.0)(2.481,-5.0)(2.511,-3.4)(2.552,-1.7)(2.593,-1.2)(2.628,-4.3)(2.669,-5.5)(2.716,-5.7)(2.745,-5.0)(2.774,-2.5)(2.809,0.0)(2.844,2.9)(2.891,4.3)(2.915,3.6)(2.944,2.4)(2.979,0.5)(3.008,3.4)(3.032,6.3)(3.061,5.8)(3.090,1.0)(3.120,-3.8)(3.149,-5.3)(3.184,-3.0)(3.213,-1.0)(3.242,-3.8)(3.278,-7.0)(3.301,-7.5)(3.330,-6.0)(3.365,-2.4)(3.401,0.0)(3.442,3.3)(3.471,2.9)(3.500,0.0)(3.529,-1.0)(3.559,1.0)(3.588,0.7)(3.623,3.5)(3.658,6.2)(3.676,6.3)(3.699,3.1)(3.723,-0.5)(3.752,1.0)(3.781,2.6)(3.805,3.9)(3.828,4.5)(3.851,5.3)(3.881,4.3)(3.910,0.5)(3.939,-1.4)(3.968,-1.0)(3.998,-4.5)(4.027,-6.2)(4.056,-5.3)(4.086,-2.9)(4.121,-0.2)(4.156,1.4)(4.191,3.4)(4.214,3.8)(4.244,0.5)(4.267,0.5)(4.290,3.4)(4.314,4.6)(4.337,2.0)(4.367,-1.0)(4.390,2.0)(4.413,4.5)(4.437,2.0)(4.472,-3.4)(4.495,-5.7)(4.531,-3.5)(4.566,-1.0)(4.601,0.0)(4.636,-1.2)(4.671,0.5)(4.712,0.7)(4.753,-0.5)(4.788,-2.2)(4.823,-3.4)(4.858,-6.0)(4.882,-7.5)(4.905,-8.6)(4.934,-7.6)(4.964,-5.3)(4.993,-2.9)(5.022,-1.4)(5.057,-1.0)(5.087,-0.5)(5.116,-1.9)(5.145,-1.2)(5.175,-0.5)(5.198,-1.0)(5.221,3.4)(5.245,1.4)(5.274,0.5)(5.303,2.9)(5.333,3.8)(5.362,7.7)(5.385,7.9)(5.409,7.6)(5.432,1.4)(5.456,6.7)(5.479,6.8)(5.502,0.5)(5.526,-1.0)(5.555,0.0)(5.584,1.0)(5.614,0.5)(5.643,3.4)(5.672,4.8)(5.701,6.0)(5.725,6.7)(5.754,8.6)(5.783,10.1)(5.807,10.5)(5.830,10.0)(5.854,7.9)(5.883,3.8)(5.906,1.9)(5.930,6.9)(5.953,6.4)(5.977,1.0)(6.000,-4.3)(6.029,-4.0)(6.059,-3.3)(6.088,-2.2)(6.117,-1.2)(6.146,0.2)(6.182,0.7)(6.217,1.4)(6.252,2.2)(6.281,3.4)(6.310,2.9)(6.340,2.2)(6.369,4.3)(6.398,1.0)(6.427,-3.0)(6.451,-6.0)(6.474,-5.8)(6.498,-3.5)(6.527,-1.0)(6.556,1.0)(6.585,2.4)(6.615,3.8)(6.644,5.2)(6.673,3.0)(6.697,0.0)(6.720,-3.8)(6.749,-5.8)(6.779,-7.1)(6.808,-7.0)(6.837,-7.1)(6.866,-4.8)(6.896,-2.4)(6.925,-0.5)(6.966,-1.7)
};
\end{axis}

% figure title and shared x labels
\node[anchor=base, font=\fontsize{12}{14}\selectfont] at (450pt,553.5pt)
  {SAM Body gait reference vs actual G1 MuJoCo skeleton angles};
\node[anchor=base, font=\fontsize{10}{12}\selectfont] at (243.8pt,-6.5pt) {time (s)};
\node[anchor=base, font=\fontsize{10}{12}\selectfont] at (687.7pt,-6.5pt) {time (s)};
\fill[black] (0pt,0pt) rectangle (1.3pt,560pt);

\pgfresetboundingbox
\path[use as bounding box] (0pt,0pt) rectangle (900pt,560pt);
\end{tikzpicture}
\end{document}
